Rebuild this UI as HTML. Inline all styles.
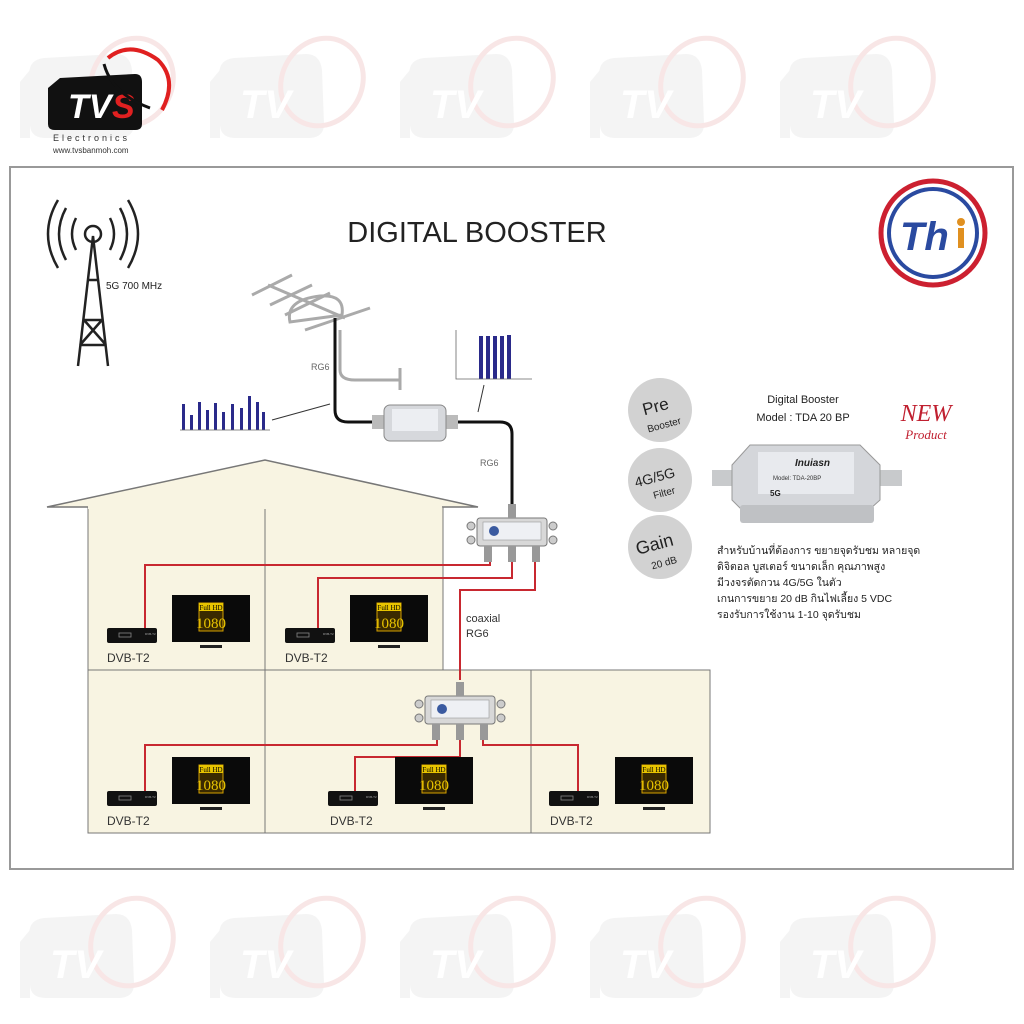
<!DOCTYPE html>
<html><head><meta charset="utf-8"><style>
body{margin:0;background:#fff;}
svg{display:block;font-family:"Liberation Sans",sans-serif;}
</style></head><body>
<svg width="1024" height="1024" viewBox="0 0 1024 1024" xmlns="http://www.w3.org/2000/svg">
<defs>
<g id="wm">
<path d="M10 60 Q6 40 24 38 L96 34 Q110 34 112 50 L114 104 Q114 118 98 118 L26 118 Q10 118 10 104 Z" fill="#f4f4f4"/>
<path d="M0 62 L10 50 L10 118 L0 118 Z" fill="#f4f4f4"/>
<ellipse cx="112" cy="62" rx="40" ry="45" fill="none" stroke="#f8e6e6" stroke-width="5" transform="rotate(30 112 62)"/>
<text x="30" y="98" font-size="40" font-weight="bold" font-style="italic" fill="#fff">TV</text>
</g>
<g id="tv">
<rect x="0" y="0" width="78" height="47" fill="#0a0a0a"/>
<rect x="27" y="8" width="24" height="28" fill="#3a2a00" stroke="#d4a000" stroke-width="1"/>
<rect x="27" y="8" width="24" height="8" fill="#e8c400"/>
<text x="39" y="15" font-size="7" text-anchor="middle" fill="#000" font-family="Liberation Serif">Full HD</text>
<text x="39" y="33" font-size="15" text-anchor="middle" fill="#e8c400" font-family="Liberation Serif">1080</text>
<rect x="28" y="50" width="22" height="3" fill="#222"/>
</g>
<g id="stb">
<rect x="0" y="0" width="50" height="15" rx="2" fill="#111"/>
<rect x="12" y="5" width="12" height="4" fill="none" stroke="#888" stroke-width="0.8"/>
<text x="38" y="7" font-size="3" fill="#aaa">DVB-T2</text>
</g>
<g id="spl">
<rect x="10" y="8" width="70" height="28" rx="3" fill="#d8d8d8" stroke="#777"/>
<rect x="16" y="12" width="58" height="18" fill="#eef0f4" stroke="#999" stroke-width="0.6"/>
<circle cx="27" cy="21" r="5" fill="#3a5aa0"/>
<circle cx="4" cy="16" r="4" fill="#ccc" stroke="#777"/>
<circle cx="4" cy="30" r="4" fill="#ccc" stroke="#777"/>
<circle cx="86" cy="16" r="4" fill="#ccc" stroke="#777"/>
<circle cx="86" cy="30" r="4" fill="#ccc" stroke="#777"/>
<rect x="41" y="-6" width="8" height="14" fill="#999"/>
<rect x="17" y="36" width="8" height="16" fill="#999"/>
<rect x="41" y="36" width="8" height="16" fill="#999"/>
<rect x="65" y="36" width="8" height="16" fill="#999"/>
</g>
</defs>

<use href="#wm" x="20" y="20"/><use href="#wm" x="210" y="20"/><use href="#wm" x="400" y="20"/><use href="#wm" x="590" y="20"/><use href="#wm" x="780" y="20"/>
<use href="#wm" x="20" y="880"/><use href="#wm" x="210" y="880"/><use href="#wm" x="400" y="880"/><use href="#wm" x="590" y="880"/><use href="#wm" x="780" y="880"/>

<path d="M48 88 L60 78 L135 74 Q142 74 142 82 L142 124 Q142 130 135 130 L55 130 Q48 130 48 124 Z" fill="#111"/>
<text x="68" y="118" font-size="34" font-weight="bold" font-style="italic" fill="#fff">TV</text>
<text x="112" y="118" font-size="34" font-weight="bold" font-style="italic" fill="#e02020">S</text>
<path d="M108 58 Q130 40 158 60 Q178 80 162 110" fill="none" stroke="#e02020" stroke-width="4"/>
<path d="M104 64 Q112 94 150 108" fill="none" stroke="#111" stroke-width="3"/>
<text x="53" y="141" font-size="9" letter-spacing="3" fill="#333">Electronics</text>
<text x="53" y="153" font-size="8" fill="#333">www.tvsbanmoh.com</text>

<rect x="10" y="167" width="1003" height="702" fill="#fff" stroke="#999" stroke-width="2"/>

<g fill="none" stroke="#222" stroke-width="2.5">
<path d="M78 366 L93 236 L108 366 M84 320 L102 320 M80 345 L106 345 M84 320 L106 345 M102 320 L80 345 M88 280 L98 280"/>
<circle cx="93" cy="234" r="8"/>
<path d="M76 218 Q68 234 76 250 M110 218 Q118 234 110 250 M66 208 Q52 234 66 260 M120 208 Q134 234 120 260 M58 200 Q38 234 58 268 M128 200 Q148 234 128 268"/>
</g>
<text x="106" y="289" font-size="10" fill="#222">5G 700 MHz</text>

<text x="477" y="242" font-size="29" text-anchor="middle" fill="#222">DIGITAL BOOSTER</text>

<circle cx="933" cy="233" r="52" fill="#fff" stroke="#cc2030" stroke-width="5"/>
<circle cx="933" cy="233" r="44" fill="#fff" stroke="#2a4aa0" stroke-width="4"/>
<text x="900" y="250" font-size="40" font-weight="bold" font-style="italic" fill="#2a4aa0">Th</text>
<circle cx="961" cy="222" r="4" fill="#e09020"/>
<rect x="958" y="228" width="6" height="20" fill="#e09020"/>

<g stroke="#aaa" stroke-width="3" fill="none">
<path d="M268 285 L345 318"/>
<path d="M252 295 L292 275 M270 305 L312 285 M285 315 L330 293 M305 330 L370 308"/>
<path d="M290 322 Q285 300 320 296 Q345 294 342 315 Z"/>
<path d="M340 330 L340 370 Q340 380 355 380 L400 380 M400 368 L400 390"/>
</g>
<path d="M335 318 L335 410 Q335 422 348 422 L380 422 M450 422 L500 422 Q512 422 512 434 L512 505" fill="none" stroke="#111" stroke-width="3"/>
<text x="311" y="370" font-size="9" fill="#666">RG6</text>
<text x="480" y="466" font-size="9" fill="#666">RG6</text>
<rect x="372" y="415" width="12" height="14" fill="#bbb"/>
<rect x="446" y="415" width="12" height="14" fill="#bbb"/>
<rect x="384" y="405" width="62" height="36" rx="6" fill="#d6d8dc" stroke="#888"/>
<rect x="392" y="409" width="46" height="22" fill="#eceef2"/>
<g fill="#2a2a8a">
<rect x="182" y="404" width="3" height="26"/><rect x="190" y="415" width="3" height="15"/><rect x="198" y="402" width="3" height="28"/><rect x="206" y="410" width="3" height="20"/><rect x="214" y="403" width="3" height="27"/><rect x="222" y="412" width="3" height="18"/><rect x="231" y="404" width="3" height="26"/><rect x="240" y="408" width="3" height="22"/><rect x="248" y="396" width="3" height="34"/><rect x="256" y="402" width="3" height="28"/><rect x="262" y="412" width="3" height="18"/>
<rect x="479" y="336" width="4" height="43"/><rect x="486" y="336" width="4" height="43"/><rect x="493" y="336" width="4" height="43"/><rect x="500" y="336" width="4" height="43"/><rect x="507" y="335" width="4" height="44"/>
</g>
<path d="M180 430 L270 430 M456 330 L456 379 L532 379" stroke="#666" stroke-width="0.8" fill="none"/>
<path d="M272 420 L330 404 M484 385 L478 412" stroke="#333" stroke-width="1"/>

<path d="M47 507 L265 460 L478 507 Z" fill="#f8f4e2" stroke="#777" stroke-width="1.5"/>
<rect x="88" y="507" width="355" height="163" fill="#f8f4e2" stroke="#777" stroke-width="1"/>
<rect x="88" y="670" width="622" height="163" fill="#f8f4e2" stroke="#777" stroke-width="1"/>
<path d="M265 507 L265 833 M531 670 L531 833" stroke="#777" stroke-width="1"/>
<rect x="88" y="505" width="354" height="4" fill="#f8f4e2"/>

<g fill="none" stroke="#c82830" stroke-width="2">
<path d="M490 555 L490 565 L145 565 L145 632"/>
<path d="M512 555 L512 578 L318 578 L318 632"/>
<path d="M535 555 L535 590 L460 590 L460 680"/>
<path d="M437 730 L437 745 L145 745 L145 795"/>
<path d="M460 730 L460 757 L355 757 L355 795"/>
<path d="M483 730 L483 745 L578 745 L578 795"/>
</g>
<use href="#spl" x="467" y="510"/>
<use href="#spl" x="415" y="688"/>

<use href="#tv" x="172" y="595"/><use href="#tv" x="350" y="595"/>
<use href="#tv" x="172" y="757"/><use href="#tv" x="395" y="757"/><use href="#tv" x="615" y="757"/>
<use href="#stb" x="107" y="628"/><use href="#stb" x="285" y="628"/>
<use href="#stb" x="107" y="791"/><use href="#stb" x="328" y="791"/><use href="#stb" x="549" y="791"/>
<g font-size="12" fill="#333">
<text x="107" y="662">DVB-T2</text><text x="285" y="662">DVB-T2</text>
<text x="107" y="825">DVB-T2</text><text x="330" y="825">DVB-T2</text><text x="550" y="825">DVB-T2</text>
</g>
<text x="466" y="622" font-size="11" fill="#333">coaxial</text>
<text x="466" y="637" font-size="11" fill="#333">RG6</text>

<circle cx="660" cy="410" r="32" fill="#d2d2d2"/>
<circle cx="660" cy="480" r="32" fill="#d2d2d2"/>
<circle cx="660" cy="547" r="32" fill="#d2d2d2"/>
<g fill="#222" text-anchor="middle">
<text x="657" y="412" font-size="17" transform="rotate(-15 657 412)">Pre</text>
<text x="665" y="428" font-size="10" transform="rotate(-15 665 428)">Booster</text>
<text x="656" y="482" font-size="14" transform="rotate(-15 656 482)">4G/5G</text>
<text x="665" y="496" font-size="10" transform="rotate(-15 665 496)">Filter</text>
<text x="656" y="550" font-size="18" transform="rotate(-15 656 550)">Gain</text>
<text x="665" y="566" font-size="10" transform="rotate(-15 665 566)">20 dB</text>
<text x="803" y="403" font-size="11">Digital Booster</text>
<text x="803" y="421" font-size="11">Model : TDA 20 BP</text>
</g>
<text x="926" y="421" font-size="24" font-style="italic" fill="#c02030" text-anchor="middle" font-family="Liberation Serif">NEW</text>
<text x="926" y="439" font-size="13" font-style="italic" fill="#c02030" text-anchor="middle" font-family="Liberation Serif">Product</text>
<rect x="712" y="470" width="30" height="16" fill="#c8cacc"/>
<rect x="872" y="470" width="30" height="16" fill="#c8cacc"/>
<path d="M750 445 L860 445 L880 465 L880 500 L860 518 L750 518 L732 500 L732 465 Z" fill="#d4d6da" stroke="#999"/>
<rect x="740" y="505" width="134" height="18" rx="3" fill="#bfc1c4"/>
<rect x="758" y="452" width="96" height="42" fill="#e8eaee"/>
<text x="795" y="466" font-size="10" font-weight="bold" font-style="italic" fill="#222">Inuiasn</text>
<text x="773" y="480" font-size="6" fill="#333">Model: TDA-20BP</text>
<text x="770" y="496" font-size="8" font-weight="bold" fill="#222">5G</text>
<g font-size="10.5" fill="#222" font-family="'Liberation Sans','Noto Sans CJK SC',sans-serif">
<text x="717" y="554">สำหรับบ้านที่ต้องการ ขยายจุดรับชม หลายจุด</text>
<text x="717" y="570">ดิจิตอล บูสเตอร์ ขนาดเล็ก คุณภาพสูง</text>
<text x="717" y="586">มีวงจรตัดกวน 4G/5G ในตัว</text>
<text x="717" y="602">เกนการขยาย 20 dB  กินไฟเลี้ยง 5 VDC</text>
<text x="717" y="618">รองรับการใช้งาน 1-10 จุดรับชม</text>
</g>
</svg>
</body></html>
